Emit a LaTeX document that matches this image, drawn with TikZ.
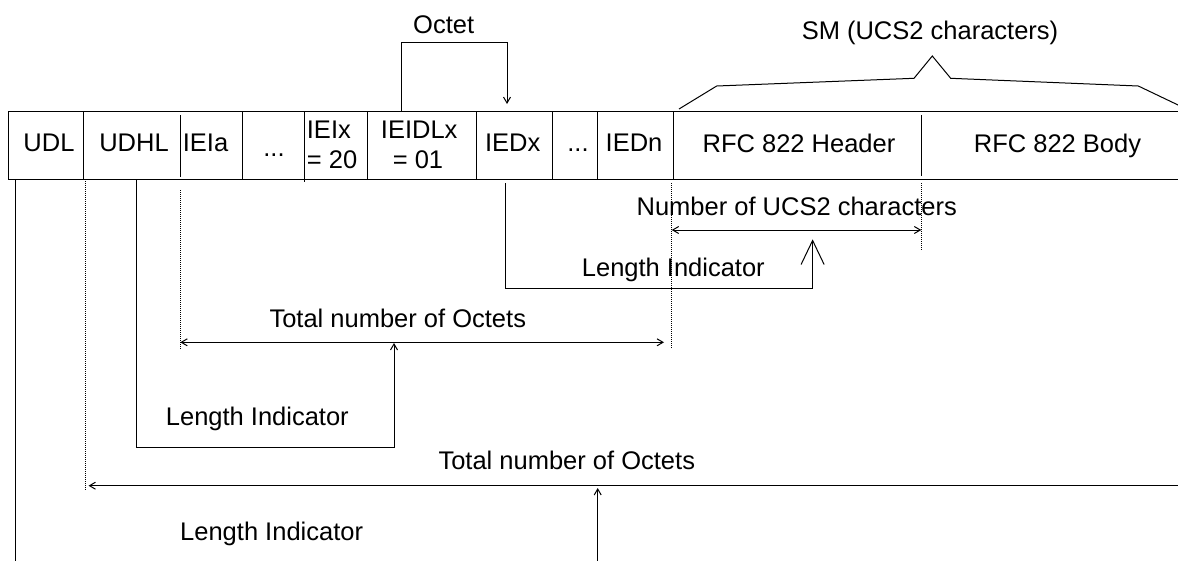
\documentclass[tikz,border=0pt]{standalone}
\usepackage{fontspec}
\setmainfont{Liberation Sans}
\usetikzlibrary{arrows.meta}
\begin{document}
\begin{tikzpicture}[x=1pt,y=-1pt,
  lbl/.style={inner sep=0pt,font=\fontsize{25.5}{30}\selectfont},
  tbl/.style={line width=1pt},
  thinl/.style={line width=1pt},
  dotl/.style={line width=0.9pt,dash pattern=on 1pt off 1pt},
  arrowend/.style={-{Straight Barb[length=6pt,width=7pt]}},
  dimarr/.style={{Straight Barb[length=6pt,width=7pt]}-{Straight Barb[length=6pt,width=7pt]}},
  bigbarb/.style={-{Straight Barb[length=24pt,width=23pt]}}]
\useasboundingbox (0,0) rectangle (1178,560);
\clip (0,0) rectangle (1178,560);

% table
\draw[tbl] (8,111) -- (1190,111);
\draw[tbl] (8,179) -- (1190,179);
\draw[tbl] (8,111) -- (8,179);
\foreach \x in {83.7,242.3,367.7,476.7,552.7,597.7,673.7}
  \draw[tbl] (\x,111) -- (\x,179);
\draw[tbl] (304.3,111) -- (304.3,182);
\draw[tbl] (180.3,115) -- (180.3,177);
\draw[tbl] (921,115) -- (921,176);

% cell labels
\node[lbl,anchor=base] (udl) at (49,151) {UDL};
\node[lbl,anchor=base] (udhl) at (134,151) {UDHL};
\node[lbl,anchor=base west] (ieia) at (182.7,151) {IEIa};
\node[lbl,anchor=base] (dots1) at (274,156) {...};
\node[lbl,anchor=base west] (ieix1) at (306.7,138.3) {IEIx};
\node[lbl,anchor=base west] (ieix2) at (306.7,168.3) {= 20};
\node[lbl,anchor=base] (ieidlx1) at (419.2,138.3) {IEIDLx};
\node[lbl,anchor=base] (ieidlx2) at (418,168.3) {= 01};
\node[lbl,anchor=base] (iedx) at (512.7,151.7) {IEDx};
\node[lbl,anchor=base] (dots2) at (578,151.7) {...};
\node[lbl,anchor=base] (iedn) at (634,151.7) {IEDn};
\node[lbl,anchor=base] (hdr) at (799,152.5) {RFC 822 Header};
\node[lbl,anchor=base] (body) at (1057.5,152.5) {RFC 822 Body};

% Octet
\node[lbl,anchor=base] (octet) at (443.7,33.3) {Octet};
\coordinate (octA) at (401,111);
\coordinate (octC) at (507,42.7);
\coordinate (octD) at (507,104);
\draw[thinl,arrowend] (octA) |- (octC) -- (octD);

% SM bracket
\node[lbl,anchor=base] (sm) at (930,39) {SM (UCS2 characters)};
\draw[thinl] (679,109) -- (716.7,86) -- (914,78.3) -- (932.3,56) -- (950.7,78.3) -- (1138.3,86) -- (1190,110.7);

% coordinates below the table
\coordinate (udlTop) at (15.7,179);
\coordinate (udlBot) at (15.7,575);
\coordinate (udhlDotTop) at (85,179);
\coordinate (udhlDotBot) at (85,490);
\coordinate (udhlLiTop) at (136.7,179);
\coordinate (udhlLiCorner) at (394,447.3);
\coordinate (udhlLiTip) at (394,343);
\coordinate (ieiaDotTop) at (180.3,190);
\coordinate (ieiaDotBot) at (180.3,350);
\coordinate (tot1L) at (180.3,342.3);
\coordinate (tot1R) at (664,342.3);
\coordinate (iednDotTop) at (671.7,183);
\coordinate (iednDotBot) at (671.7,347.3);
\coordinate (hdrDotTop) at (921.3,183);
\coordinate (hdrDotBot) at (921.3,250.7);
\coordinate (numL) at (671.7,230);
\coordinate (numR) at (921.3,230);
\coordinate (iedxTop) at (505,183.3);
\coordinate (iedxCorner) at (812.6,288.3);
\coordinate (iedxTip) at (812.6,239.3);
\coordinate (tot2R) at (1190,485.7);
\coordinate (tot2L) at (88.5,485.7);
\coordinate (udlArrBot) at (597.7,575);
\coordinate (udlArrTip) at (597.7,488);

% connectors
\draw[thinl] (udlTop) -- (udlBot);
\draw[dotl] (udhlDotTop) -- (udhlDotBot);
\draw[thinl,arrowend] (udhlLiTop) |- (udhlLiCorner) -- (udhlLiTip);
\draw[dotl] (ieiaDotTop) -- (ieiaDotBot);
\draw[thinl,dimarr] (tot1L) -- (tot1R);
\draw[dotl] (iednDotTop) -- (iednDotBot);
\draw[dotl] (hdrDotTop) -- (hdrDotBot);
\draw[thinl,dimarr] (numL) -- (numR);
\draw[thinl,bigbarb] (iedxTop) |- (iedxCorner) -- (iedxTip);
\draw[thinl,arrowend] (tot2R) -- (tot2L);
\draw[thinl,arrowend] (udlArrBot) -- (udlArrTip);

% dimension labels
\node[lbl,anchor=base west] (numlbl) at (636.4,215) {Number of UCS2 characters};
\node[lbl,anchor=base west] (li3) at (581.7,276.7) {Length Indicator};
\node[lbl,anchor=base west] (tot1lbl) at (269.3,327.5) {Total number of Octets};
\node[lbl,anchor=base west] (li1) at (165.7,425) {Length Indicator};
\node[lbl,anchor=base west] (tot2lbl) at (438.3,469) {Total number of Octets};
\node[lbl,anchor=base west] (li2) at (180,540) {Length Indicator};
\end{tikzpicture}
\end{document}
